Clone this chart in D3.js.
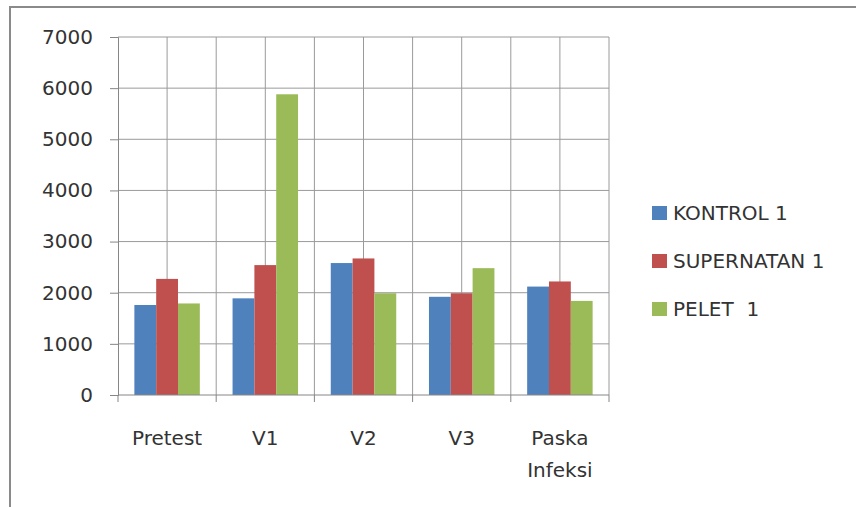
<!DOCTYPE html>
<html>
<head>
<meta charset="utf-8">
<script src="https://cdn.jsdelivr.net/npm/d3@7"></script>
<style>
  body { margin: 0; background: #fff; }
  text { font-family: "DejaVu Sans", sans-serif; fill: #333; }
</style>
</head>
<body>
<svg id="chart" width="856" height="507"></svg>
<script>
var categories = ["Pretest", "V1", "V2", "V3", "Paska Infeksi"];
var seriesNames = ["KONTROL 1", "SUPERNATAN 1", "PELET  1"];
var kontrol = [1760, 1890, 2580, 1920, 2120];
var supernatan = [2270, 2540, 2670, 1990, 2220];
var pelet = [1790, 5880, 1990, 2480, 1840];
var yTicks = [0, 1000, 2000, 3000, 4000, 5000, 6000, 7000];
var colors = ["#4f81bd", "#c0504d", "#9bbb59"];

var svg = d3.select("svg#chart");
var values = [kontrol, supernatan, pelet];

// outer chart frame (cut off at the right and bottom)
svg.append("rect")
    .attr("x", 10).attr("y", 7)
    .attr("width", 900).attr("height", 600)
    .attr("fill", "#fff")
    .attr("stroke", "#8a8a8a")
    .attr("stroke-width", 2);

var pLeft = 118, pRight = 609, pTop = 37, pBottom = 395;

var x = d3.scaleBand()
    .domain(categories)
    .range([pLeft, pRight])
    .padding(0);

var x1 = d3.scaleBand()
    .domain(d3.range(3))
    .range([0, x.bandwidth()])
    .paddingOuter(0.75)
    .paddingInner(0);

var y = d3.scaleLinear()
    .domain([0, 7000])
    .range([pBottom, pTop]);

// horizontal gridlines
svg.append("g").selectAll("line")
    .data(yTicks.slice(1))
    .enter().append("line")
      .attr("x1", pLeft).attr("x2", pRight)
      .attr("y1", function(d) { return y(d); })
      .attr("y2", function(d) { return y(d); })
      .attr("stroke", "#9a9a9a");

// vertical gridlines: category boundaries and centres
var vLines = [];
categories.forEach(function(c) {
  vLines.push(x(c) + x.bandwidth() / 2);
  vLines.push(x(c) + x.bandwidth());
});
svg.append("g").selectAll("line")
    .data(vLines)
    .enter().append("line")
      .attr("x1", function(d) { return d; })
      .attr("x2", function(d) { return d; })
      .attr("y1", pTop).attr("y2", pBottom)
      .attr("stroke", "#9a9a9a");

// bars
var group = svg.append("g").selectAll("g")
    .data(categories)
    .enter().append("g")
      .attr("transform", function(d) { return "translate(" + x(d) + ",0)"; });

group.selectAll("rect")
    .data(function(d, i) { return values.map(function(s, j) { return {s: j, v: s[i]}; }); })
    .enter().append("rect")
      .attr("x", function(d) { return x1(d.s); })
      .attr("width", x1.bandwidth())
      .attr("y", function(d) { return y(d.v); })
      .attr("height", function(d) { return pBottom - y(d.v); })
      .attr("fill", function(d) { return colors[d.s]; });

// y axis
var yAxis = svg.append("g")
    .attr("transform", "translate(" + pLeft + ",0)")
    .call(d3.axisLeft(y).tickValues(yTicks).tickFormat(d3.format("d")).tickSize(8).tickPadding(17));
yAxis.select(".domain").attr("stroke", "#868686");
yAxis.selectAll(".tick line").attr("stroke", "#868686");
yAxis.selectAll("text").style("font-size", "20px").attr("fill", "#333");

// x axis
var xAxis = svg.append("g")
    .attr("transform", "translate(0," + pBottom + ")");
xAxis.append("line")
    .attr("x1", pLeft).attr("x2", pRight)
    .attr("stroke", "#868686");
xAxis.selectAll(".xt")
    .data([pLeft].concat(categories.map(function(c) { return x(c) + x.bandwidth(); })))
    .enter().append("line")
      .attr("x1", function(d) { return d; })
      .attr("x2", function(d) { return d; })
      .attr("y1", 0).attr("y2", 7)
      .attr("stroke", "#868686");

xAxis.selectAll(".lbl")
    .data(categories)
    .enter().append("text")
      .attr("text-anchor", "middle")
      .style("font-size", "20px")
      .each(function(d) {
        var cx = x(d) + x.bandwidth() / 2;
        d3.select(this).selectAll("tspan")
          .data(d.split(" "))
          .enter().append("tspan")
            .attr("x", cx)
            .attr("y", function(w, i) { return 50 + i * 32; })
            .text(function(w) { return w; });
      });

// legend
var legend = svg.append("g").selectAll("g")
    .data(seriesNames)
    .enter().append("g")
      .attr("transform", function(d, i) { return "translate(652," + (213 + i * 48) + ")"; });

legend.append("rect")
    .attr("x", 0).attr("y", -7)
    .attr("width", 15).attr("height", 14)
    .attr("fill", function(d, i) { return colors[i]; });

legend.append("text")
    .attr("x", 21).attr("y", 7)
    .style("font-size", "20px")
    .style("white-space", "pre")
    .text(function(d) { return d; });
</script>
</body>
</html>
